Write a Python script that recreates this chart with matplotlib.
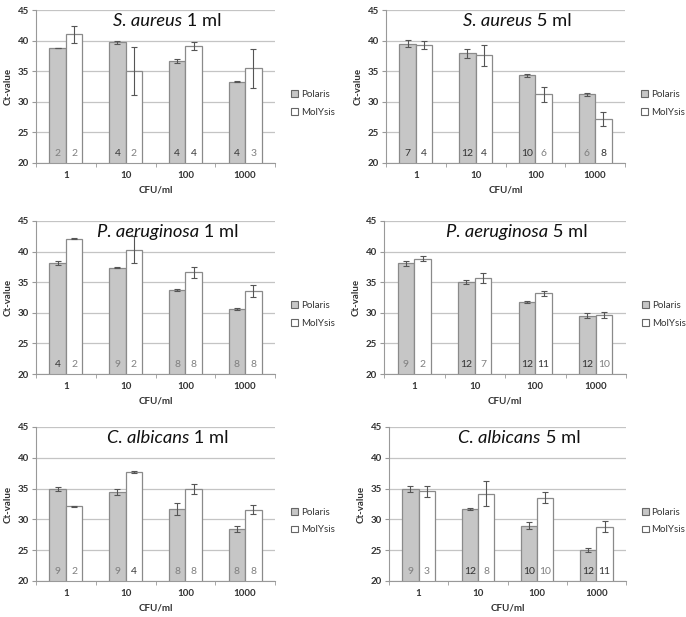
import matplotlib
matplotlib.use('Agg')
import matplotlib.pyplot as plt
from matplotlib.patches import Patch
import numpy as np

plt.rcParams['font.family'] = ['Lato', 'DejaVu Sans']

categories = ['1', '10', '100', '1000']
series = ['Polaris', 'MolYsis']

species = ['S. aureus', 'S. aureus', 'P. aeruginosa', 'P. aeruginosa',
           'C. albicans', 'C. albicans']
volumes = ['1 ml', '5 ml', '1 ml', '5 ml', '1 ml', '5 ml']

polaris_mean = [[38.8, 39.7, 36.7, 33.3], [39.5, 37.9, 34.3, 31.2],
                [38.1, 37.4, 33.7, 30.6], [38.1, 35.0, 31.8, 29.5],
                [34.9, 34.4, 31.7, 28.4], [35.0, 31.7, 29.0, 25.0]]
polaris_err = [[0.0, 0.3, 0.3, 0.05], [0.6, 0.7, 0.3, 0.2],
               [0.3, 0.15, 0.2, 0.15], [0.4, 0.3, 0.2, 0.4],
               [0.3, 0.5, 1.0, 0.5], [0.5, 0.2, 0.6, 0.3]]
molysis_mean = [[41.0, 35.0, 39.1, 35.5], [39.3, 37.6, 31.2, 27.2],
                [42.1, 40.3, 36.6, 33.6], [38.8, 35.7, 33.2, 29.7],
                [32.1, 37.7, 35.0, 31.6], [34.6, 34.2, 33.5, 28.8]]
molysis_err = [[1.4, 3.9, 0.6, 3.2], [0.6, 1.7, 1.2, 1.2],
               [0.05, 2.2, 0.9, 1.0], [0.4, 0.8, 0.4, 0.5],
               [0.05, 0.2, 0.8, 0.7], [0.9, 2.0, 0.9, 0.9]]
polaris_n = [[2, 4, 4, 4], [7, 12, 10, 6], [4, 9, 8, 8],
             [9, 12, 12, 12], [9, 9, 8, 8], [9, 12, 10, 12]]
molysis_n = [[2, 2, 4, 3], [4, 4, 6, 8], [2, 2, 8, 8],
             [2, 7, 11, 10], [2, 4, 8, 8], [3, 8, 10, 11]]
# 1 = dark label, 0 = grey label
polaris_dark = [[0, 1, 1, 1], [1, 1, 1, 0], [1, 0, 0, 0],
                [0, 1, 1, 1], [0, 0, 0, 0], [0, 1, 1, 1]]
molysis_dark = [[0, 0, 1, 0], [1, 1, 0, 1], [0, 0, 0, 0],
                [0, 0, 1, 0], [0, 1, 0, 0], [0, 0, 0, 1]]

# axes boxes in pixels: left, right, top, bottom
boxes = [(36, 275, 10, 163), (386, 625, 10, 163),
         (36, 275, 221, 374), (384, 626, 221, 374),
         (36, 275, 427, 581), (389, 626, 427, 581)]

W, H = 686, 617
fig = plt.figure(figsize=(W / 100, H / 100), dpi=100)
renderer = fig.canvas.get_renderer()

x = np.arange(len(categories))
w = 0.275
edge = '#8a8a8a'
for i in range(6):
    l, r, t, b = boxes[i]
    ax = fig.add_axes([l / W, 1 - b / H, (r - l) / W, (b - t) / H])
    ax.set_ylim(20, 45)
    ax.set_xlim(-0.5, 3.5)
    ax.set_yticks(range(20, 46, 5))
    ax.yaxis.grid(True, color='#c4c4c4', lw=0.9)
    ax.set_axisbelow(True)
    ax.bar(x - w / 2, polaris_mean[i], w, color='#c6c6c6', edgecolor=edge,
           lw=0.9, yerr=polaris_err[i], capsize=2,
           error_kw=dict(ecolor='#555555', elinewidth=0.8, capthick=0.8))
    ax.bar(x + w / 2, molysis_mean[i], w, color='white', edgecolor=edge,
           lw=0.9, yerr=molysis_err[i], capsize=2,
           error_kw=dict(ecolor='#555555', elinewidth=0.8, capthick=0.8))
    for j in range(4):
        ax.text(x[j] - w / 2, 21.6, str(polaris_n[i][j]), ha='center',
                va='center', fontsize=7.5,
                color='#333333' if polaris_dark[i][j] else '#808080')
        ax.text(x[j] + w / 2, 21.6, str(molysis_n[i][j]), ha='center',
                va='center', fontsize=7.5,
                color='#333333' if molysis_dark[i][j] else '#808080')

    # title: italic species name followed by upright volume, centred together
    t1 = ax.text(0, 0.93, species[i], transform=ax.transAxes, ha='left',
                 va='center', fontsize=13.2, style='italic', color='#111111')
    t2 = ax.text(0, 0.93, ' ' + volumes[i], transform=ax.transAxes,
                 ha='left', va='center', fontsize=13.2, color='#111111')
    w1 = t1.get_window_extent(renderer).width
    w2 = t2.get_window_extent(renderer).width
    ax_w = ax.get_window_extent(renderer).width
    start = 0.55 - (w1 + w2) / 2 / ax_w
    t1.set_x(start)
    t2.set_x(start + w1 / ax_w)

    for s in ['top', 'right']:
        ax.spines[s].set_visible(False)
    for s in ['left', 'bottom']:
        ax.spines[s].set_color('#999999')
        ax.spines[s].set_linewidth(0.8)
    ax.set_xticks(x)
    ax.set_xticklabels(categories, fontsize=7, fontweight='bold', color='#333333')
    ax.set_xticks(np.arange(-0.5, 4, 1), minor=True)
    ax.tick_params(axis='x', which='major', length=0, pad=6)
    ax.tick_params(axis='x', which='minor', length=3, color='#999999')
    ax.tick_params(axis='y', length=3, color='#999999', labelsize=7,
                   labelcolor='#333333', pad=2)
    for lab in ax.get_yticklabels():
        lab.set_fontweight('bold')
    ax.set_xlabel('CFU/ml', fontsize=7, fontweight='bold', color='#333333',
                  labelpad=4)
    ax.set_ylabel('Ct-value', fontsize=7, fontweight='bold', color='#333333',
                  labelpad=4)
    handles = [Patch(facecolor='#c6c6c6', edgecolor='#666666', lw=0.8),
               Patch(facecolor='white', edgecolor='#666666', lw=0.8)]
    ax.legend(handles, series, loc='center left', bbox_to_anchor=(1.03, 0.39),
              frameon=False, fontsize=7, handlelength=0.7, handleheight=0.7,
              handletextpad=0.3, labelspacing=0.9, labelcolor='#333333')

fig.savefig('out.png', dpi=100)
